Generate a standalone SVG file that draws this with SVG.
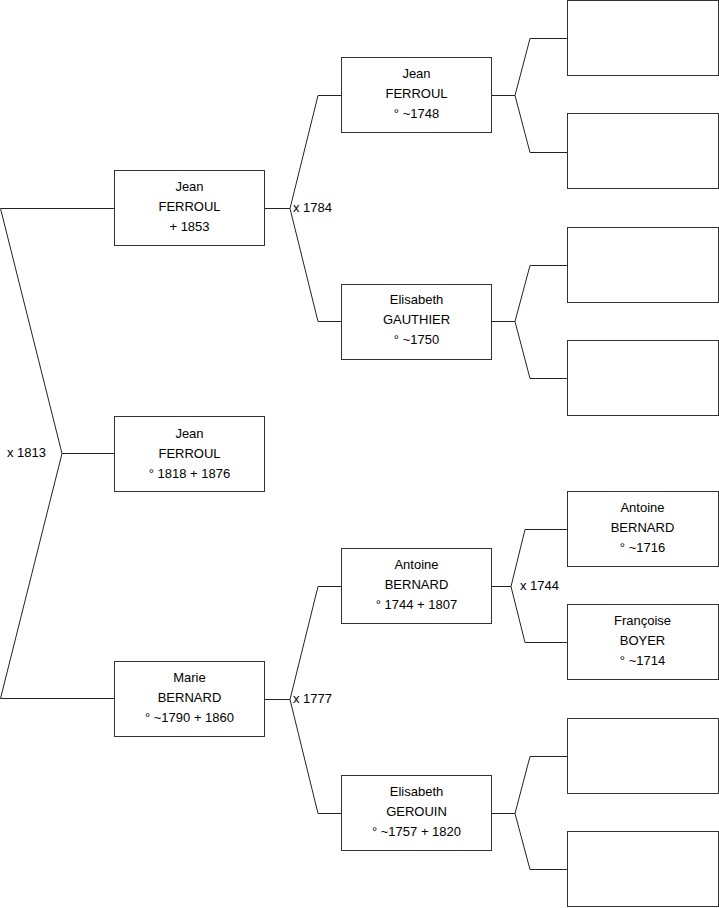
<svg xmlns="http://www.w3.org/2000/svg" width="719" height="908" viewBox="0 0 719 908">
<style>
.box{fill:#fff;stroke:#333;stroke-width:1}
.ln{fill:none;stroke:#222;stroke-width:1}
text{font-family:"Liberation Sans",Arial,sans-serif;font-size:13px;fill:#000}
.c{text-anchor:middle}
</style>
<rect width="719" height="908" fill="#fff"/>
<g id="connectors">
<polyline class="ln" points="114,208.5 0.5,208.5 62,453.5 0.5,698.5 114,698.5"/>
<line class="ln" x1="62" y1="453.5" x2="114" y2="453.5"/>
<polyline class="ln" points="341,95.5 318,95.5 290,208.5 318,321.5 341,321.5"/>
<line class="ln" x1="265" y1="208.5" x2="290" y2="208.5"/>
<polyline class="ln" points="341,586.5 318,586.5 290,699.5 318,813.5 341,813.5"/>
<line class="ln" x1="265" y1="699.5" x2="290" y2="699.5"/>
<polyline class="ln" points="567,38.5 530,38.5 515,95.5 530,152.5 567,152.5"/>
<line class="ln" x1="492" y1="95.5" x2="515" y2="95.5"/>
<polyline class="ln" points="567,265.5 530,265.5 515,321.5 530,378.5 567,378.5"/>
<line class="ln" x1="492" y1="321.5" x2="515" y2="321.5"/>
<polyline class="ln" points="567,529.5 525,529.5 511,586.5 525,642.5 567,642.5"/>
<line class="ln" x1="492" y1="586.5" x2="511" y2="586.5"/>
<polyline class="ln" points="567,756.5 530,756.5 515,813.5 530,869.5 567,869.5"/>
<line class="ln" x1="492" y1="813.5" x2="515" y2="813.5"/>
<text x="7" y="457">x 1813</text>
<text x="293" y="212">x 1784</text>
<text x="293" y="703">x 1777</text>
<text x="520" y="590">x 1744</text>
</g>
<g id="n1"><rect class="box" x="114.5" y="170.5" width="150" height="75"/>
<text class="c" x="189.5" y="191">Jean</text><text class="c" x="189.5" y="211">FERROUL</text><text class="c" x="189.5" y="231">+ 1853</text></g>
<g id="n2"><rect class="box" x="114.5" y="416.5" width="150" height="75"/>
<text class="c" x="189.5" y="438">Jean</text><text class="c" x="189.5" y="458">FERROUL</text><text class="c" x="189.5" y="478">° 1818 + 1876</text></g>
<g id="n3"><rect class="box" x="114.5" y="661.5" width="150" height="75"/>
<text class="c" x="189.5" y="682">Marie</text><text class="c" x="189.5" y="702">BERNARD</text><text class="c" x="189.5" y="722">° ~1790 + 1860</text></g>
<g id="n4"><rect class="box" x="341.5" y="57.5" width="150" height="75"/>
<text class="c" x="416.5" y="78">Jean</text><text class="c" x="416.5" y="98">FERROUL</text><text class="c" x="416.5" y="118">° ~1748</text></g>
<g id="n5"><rect class="box" x="341.5" y="284.5" width="150" height="75"/>
<text class="c" x="416.5" y="304">Elisabeth</text><text class="c" x="416.5" y="324">GAUTHIER</text><text class="c" x="416.5" y="344">° ~1750</text></g>
<g id="n6"><rect class="box" x="341.5" y="548.5" width="150" height="75"/>
<text class="c" x="416.5" y="569">Antoine</text><text class="c" x="416.5" y="589">BERNARD</text><text class="c" x="416.5" y="609">° 1744 + 1807</text></g>
<g id="n7"><rect class="box" x="341.5" y="775.5" width="150" height="75"/>
<text class="c" x="416.5" y="796">Elisabeth</text><text class="c" x="416.5" y="816">GEROUIN</text><text class="c" x="416.5" y="836">° ~1757 + 1820</text></g>
<g id="n8"><rect class="box" x="567.5" y="0.5" width="151" height="75"/></g>
<g id="n9"><rect class="box" x="567.5" y="113.5" width="151" height="75"/></g>
<g id="n10"><rect class="box" x="567.5" y="227.5" width="151" height="75"/></g>
<g id="n11"><rect class="box" x="567.5" y="340.5" width="151" height="75"/></g>
<g id="n12"><rect class="box" x="567.5" y="491.5" width="151" height="75"/>
<text class="c" x="642.5" y="512">Antoine</text><text class="c" x="642.5" y="532">BERNARD</text><text class="c" x="642.5" y="552">° ~1716</text></g>
<g id="n13"><rect class="box" x="567.5" y="604.5" width="151" height="75"/>
<text class="c" x="642.5" y="625">Françoise</text><text class="c" x="642.5" y="645">BOYER</text><text class="c" x="642.5" y="665">° ~1714</text></g>
<g id="n14"><rect class="box" x="567.5" y="718.5" width="151" height="75"/></g>
<g id="n15"><rect class="box" x="567.5" y="831.5" width="151" height="75"/></g>
</svg>
